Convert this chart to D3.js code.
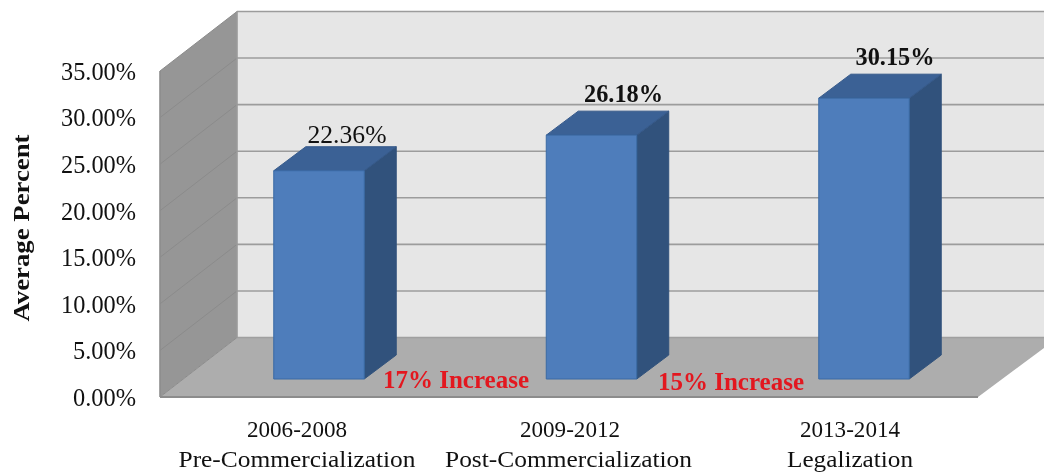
<!DOCTYPE html>
<html><head><meta charset="utf-8">
<script src="https://cdn.jsdelivr.net/npm/d3@7"></script>
<style>
html,body{margin:0;padding:0;background:#fff}
svg{display:block;filter:blur(0.45px)}
text{font-family:"Liberation Serif",serif;fill:#111}
</style></head><body>
<div id="chart"></div>
<script>
const categories = ["2006-2008","2009-2012","2013-2014"];
const eraLabels = ["Pre-Commercialization","Post-Commercialization","Legalization"];
const values = [22.36,26.18,30.15];
const valueLabels = ["22.36%","26.18%","30.15%"];
const yTicks = [0,5,10,15,20,25,30,35];
const increaseLabels = ["17% Increase","15% Increase"];
const yTitle = "Average Percent";

const W=1044,H=473;
const svg=d3.select("#chart").append("svg").attr("width",W).attr("height",H);

// depth offsets of the pseudo-3D box
const wallDX=77, wallDY=-59.5;
const barDX=32, barDY=-24;
const floorFrontY=397, floorFrontX=160, floorEndX=978;

const yFront=d3.scaleLinear().domain([0,35]).range([floorFrontY,71]);
const barBase=379;
const yBar=d3.scaleLinear().domain([0,35]).range([barBase,barBase-(floorFrontY-71)]);
const x=d3.scaleBand().domain(categories).range([182.75,1000.25]).paddingInner(0.668).paddingOuter(0.334);

const poly=(pts,fill,stroke)=>svg.append("polygon")
  .attr("points",pts.map(p=>p.join(",")).join(" "))
  .attr("fill",fill).attr("stroke",stroke||"none");

// back wall
const backL=floorFrontX+wallDX;
poly([[backL,yFront(35)+wallDY],[W+2,yFront(35)+wallDY],[W+2,yFront(0)+wallDY],[backL,yFront(0)+wallDY]],"#e6e6e6");
// side wall
poly([[floorFrontX,yFront(35)],[backL,yFront(35)+wallDY],[backL,yFront(0)+wallDY],[floorFrontX,yFront(0)]],"#969696");
// floor
poly([[floorFrontX,yFront(0)],[backL,yFront(0)+wallDY],[W+2,yFront(0)+wallDY],[W+2,yFront(0)+wallDY+9],[floorEndX,yFront(0)]],"#adadad");

// grid on back wall and side wall
svg.append("g").selectAll("line.back").data(yTicks).join("line")
  .attr("x1",backL).attr("x2",W+2)
  .attr("y1",d=>yFront(d)+wallDY).attr("y2",d=>yFront(d)+wallDY)
  .attr("stroke",d=>d===0?"#a0a0a0":"#9c9c9c").attr("stroke-width",1.6);
svg.append("g").selectAll("line.side").data(yTicks).join("line")
  .attr("x1",floorFrontX).attr("x2",backL)
  .attr("y1",d=>yFront(d)).attr("y2",d=>yFront(d)+wallDY)
  .attr("stroke","#8b8b8b").attr("stroke-width",1);
// wall outlines
svg.append("line").attr("x1",backL).attr("x2",backL).attr("y1",yFront(35)+wallDY).attr("y2",yFront(0)+wallDY).attr("stroke","#9a9a9a").attr("stroke-width",1.6);
svg.append("line").attr("x1",floorFrontX).attr("x2",floorFrontX).attr("y1",yFront(35)).attr("y2",yFront(0)).attr("stroke","#8c8c8c").attr("stroke-width",1.6);
svg.append("line").attr("x1",floorFrontX).attr("x2",floorEndX).attr("y1",yFront(0)).attr("y2",yFront(0)).attr("stroke","#8c8c8c").attr("stroke-width",2);

// bars
const bars=svg.append("g");
categories.forEach((c,i)=>{
  const x0=x(c),x1=x0+x.bandwidth(),t=yBar(values[i]),b=yBar(0);
  const g=(pts,fill,stroke)=>bars.append("polygon").attr("points",pts.map(p=>p.join(",")).join(" ")).attr("fill",fill).attr("stroke",stroke).attr("stroke-width",1);
  g([[x1,t],[x1+barDX,t+barDY],[x1+barDX,b+barDY],[x1,b]],"#31527c","#31527c");
  g([[x0,t],[x0+barDX,t+barDY],[x1+barDX,t+barDY],[x1,t]],"#3b6195","#35598a");
  g([[x0,t],[x1,t],[x1,b],[x0,b]],"#4e7dbb","#3a6aa4");
});

// y axis
const yAxis=d3.axisLeft(yFront).tickValues(yTicks).tickFormat(d=>d.toFixed(2)+"%").tickSize(0).tickPadding(0);
const ay=svg.append("g").attr("transform","translate(136,0)").call(yAxis);
ay.select(".domain").remove();
ay.selectAll("text").attr("font-size",24.5).attr("dy","0.34em").style("font-family",'"Liberation Serif",serif').attr("textLength",d=>d>=10?75:63).attr("lengthAdjust","spacingAndGlyphs");

// y title
svg.append("text").attr("transform","translate(29,228) rotate(-90)").attr("text-anchor","middle")
  .attr("font-size",24).attr("font-weight","bold").attr("textLength",187).attr("lengthAdjust","spacingAndGlyphs").text(yTitle);

// value labels
const labelDX=[28,32,31], labelDY=[-28,-33,-33];
svg.append("g").selectAll("text").data(values).join("text")
  .attr("x",(d,i)=>x(categories[i])+x.bandwidth()/2+labelDX[i])
  .attr("y",(d,i)=>yBar(d)+labelDY[i])
  .attr("text-anchor","middle").attr("font-size",25).attr("font-weight",(d,i)=>i===0?"normal":"bold")
  .attr("textLength",79).attr("lengthAdjust","spacingAndGlyphs")
  .text((d,i)=>valueLabels[i]);

// category labels
const catCx=[297,570,850], eraCx=[297,568.5,850], eraW=[237,247,126];
svg.append("g").selectAll("text").data(categories).join("text")
  .attr("x",(d,i)=>catCx[i]).attr("y",437).attr("text-anchor","middle").attr("font-size",24)
  .attr("textLength",100).attr("lengthAdjust","spacingAndGlyphs").text(d=>d);
svg.append("g").selectAll("text").data(eraLabels).join("text")
  .attr("x",(d,i)=>eraCx[i]).attr("y",467).attr("text-anchor","middle").attr("font-size",24)
  .attr("textLength",(d,i)=>eraW[i]).attr("lengthAdjust","spacingAndGlyphs").text(d=>d);

// increase annotations
const incX=[383,658], incY=[388,390];
svg.append("g").selectAll("text").data(increaseLabels).join("text")
  .attr("x",(d,i)=>incX[i]).attr("y",(d,i)=>incY[i]).attr("font-size",25).attr("font-weight","bold")
  .style("fill","#e3171f").attr("textLength",146).attr("lengthAdjust","spacingAndGlyphs").text(d=>d);
</script></body></html>
